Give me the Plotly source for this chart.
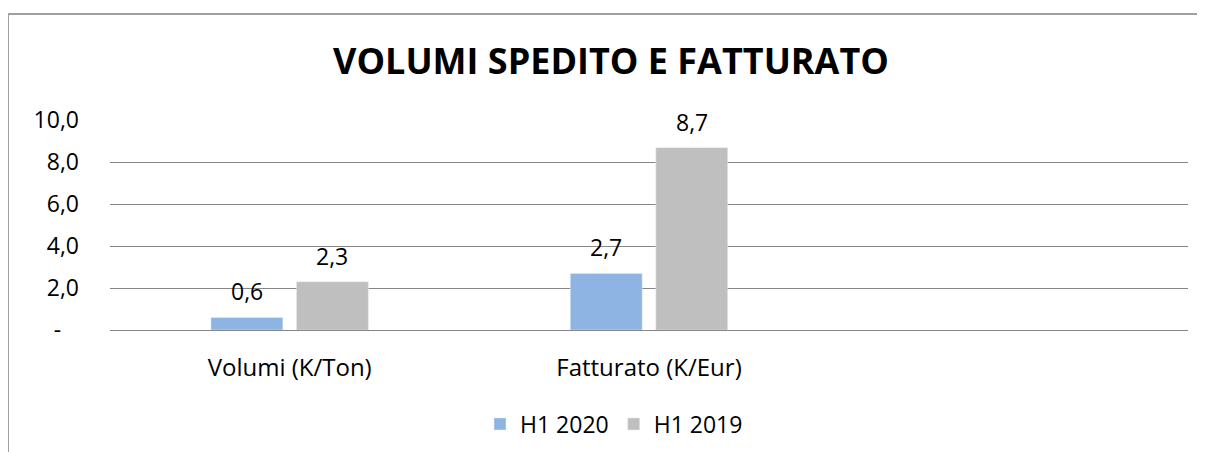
import plotly.graph_objects as go

categories = ["Volumi (K/Ton)", "Fatturato (K/Eur)", " "]
series_names = ["H1 2020", "H1 2019"]
h1_2020 = [0.6, 2.7, None]
h1_2019 = [2.3, 8.7, None]
tick_vals = [0, 2, 4, 6, 8, 10]
tick_text = ["-\u00a0\u00a0\u00a0", "2,0", "4,0", "6,0", "8,0", "10,0"]

FONT = "Open Sans"
# page has an 8px body margin, so the figure is drawn 8px in and 8px down
W, H = 1197, 444
L, R, T, B = 102, 17, 112, 122
PW, PH = W - L - R, H - T - B
CAT_W = PW / len(categories)

colors = ["#8EB4E3", "#BFBFBF"]
offsets = [-0.219, 0.019]
bar_w = 0.2

fig = go.Figure()

for name, vals, col, off in zip(series_names, [h1_2020, h1_2019], colors, offsets):
    fig.add_trace(go.Bar(
        x=categories, y=vals, name=name,
        marker_color=col, width=bar_w, offset=off,
    ))
    # data labels, placed like Excel's (a bit higher above the bar than plotly's)
    for c, v in zip(categories, vals):
        if v is None:
            continue
        fig.add_annotation(
            x=c, y=v, xref="x", yref="y",
            text=f"{v:.1f}".replace(".", ","), showarrow=False,
            xshift=(off + bar_w / 2) * CAT_W, yshift=26, yanchor="middle",
            font=dict(size=23, family=FONT, color="#000000"),
        )

fig.update_layout(
    width=W, height=H,
    barmode="overlay",
    separators=",.",
    plot_bgcolor="white", paper_bgcolor="white",
    margin=dict(l=L, r=R, t=T, b=B, autoexpand=False),
    font=dict(family=FONT, size=23, color="#000000"),
    title=dict(
        text="<b>VOLUMI SPEDITO E FATTURATO</b>",
        x=603 / W, xanchor="center", y=1 - 53.5 / H, yanchor="middle",
        font=dict(family=FONT, size=36, color="#000000"),
    ),
    legend=dict(
        orientation="h", x=(606 - L) / PW, xanchor="center",
        y=(T + PH - 416) / PH, yanchor="middle",
        font=dict(size=23), itemwidth=30,
    ),
    showlegend=True,
)

fig.update_xaxes(
    type="category", categoryorder="array", categoryarray=categories,
    range=[-0.5, 2.5], showgrid=False, showline=False, zeroline=False,
    ticks="", ticklabelstandoff=21, automargin=False,
    tickfont=dict(size=24, family=FONT, color="#000000"),
)
fig.update_yaxes(
    range=[0, 10.02], tickvals=tick_vals, ticktext=tick_text,
    showgrid=True, gridcolor="#868686", gridwidth=1,
    zeroline=True, zerolinecolor="#868686", zerolinewidth=1,
    showline=False, ticks="", ticklabelstandoff=30, automargin=False,
    tickfont=dict(size=23, family=FONT, color="#000000"),
)

# outer chart frame (cropped on right and bottom like the reference)
fig.add_shape(
    type="rect", xref="paper", yref="paper",
    x0=(0 - L) / PW, x1=(W + 20 - L) / PW,
    y0=(T + PH - (H + 20)) / PH, y1=(T + PH - 6) / PH,
    line=dict(color="#A0A0A0", width=2), fillcolor="rgba(0,0,0,0)",
    layer="below",
)

fig.write_html("out.html")
